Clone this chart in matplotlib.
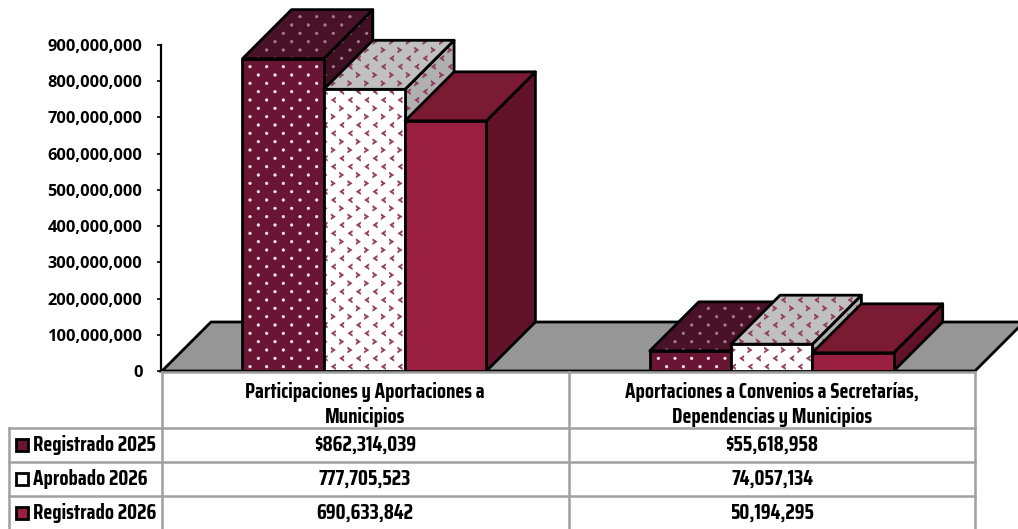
import numpy as np
import matplotlib
matplotlib.use("Agg")
import matplotlib.pyplot as plt
import matplotlib.hatch as mhatch
from matplotlib.path import Path
from matplotlib.patches import Polygon, Rectangle
from matplotlib.lines import Line2D
from matplotlib.ticker import FuncFormatter

categories = ["Participaciones y Aportaciones a\nMunicipios",
              "Aportaciones a Convenios a Secretarías,\nDependencias y Municipios"]
series_names = ["Registrado 2025", "Aprobado 2026", "Registrado 2026"]
registrado_2025 = [862314039, 55618958]
aprobado_2026 = [777705523, 74057134]
registrado_2026 = [690633842, 50194295]
table_row_1 = ["$862,314,039", "$55,618,958"]
table_row_2 = ["777,705,523", "74,057,134"]
table_row_3 = ["690,633,842", "50,194,295"]
y_ticks = [0, 100000000, 200000000, 300000000, 400000000, 500000000,
           600000000, 700000000, 800000000, 900000000]


class Lattice(mhatch.HatchPatternBase):
    """Staggered fill pattern: 6 columns, 12 rows per hatch tile."""
    char = '.'

    def shape(self, row):
        raise NotImplementedError

    def __init__(self, hatch, density):
        self.centres = []
        if hatch.count(self.char):
            for r in range(13):
                xs = (np.arange(7) / 6) if r % 2 == 0 else ((np.arange(6) + 0.5) / 6)
                self.centres += [(x, r / 12, r) for x in xs]
        self.num_vertices = sum(len(self.shape(c[2])[0]) for c in self.centres)

    def set_vertices_and_codes(self, vertices, codes):
        k = 0
        for x, y, r in self.centres:
            v, c = self.shape(r)
            vertices[k:k + len(v)] = v + (x, y)
            codes[k:k + len(v)] = c
            k += len(v)


class Dots(Lattice):
    char = '.'
    _c = Path.unit_circle()

    def shape(self, row):
        return self._c.vertices * 0.013, self._c.codes


class Chevrons(Lattice):
    char = '*'
    _v = np.array([[0.022, 0.028], [-0.02, 0.0], [0.022, -0.028], [0.022, -0.012],
                   [0.004, 0.0], [0.022, 0.012], [0.022, 0.028]])
    _c = np.array([Path.MOVETO] + [Path.LINETO] * 5 + [Path.CLOSEPOLY])

    def shape(self, row):
        v = self._v if row % 4 < 2 else self._v * (-1, 1)
        return v, self._c


mhatch._hatch_types = [Chevrons if c is mhatch.Stars else Dots if c is mhatch.SmallFilledCircles else c
                       for c in mhatch._hatch_types]

W, H = 1018, 529
NARROW = ['Saira Condensed', 'Barlow Condensed', 'Liberation Sans']
TICKF = ['Open Sans', 'DejaVu Sans']
plt.rcParams['hatch.linewidth'] = 0.4

fig = plt.figure(figsize=(W / 100, H / 100), dpi=100, facecolor='white')
ax = fig.add_axes([162 / W, (H - 371) / H, 813 / W, 326 / H])
ax.set_xlim(0, 2)
ax.set_ylim(0, 900000000)
ax.patch.set_visible(False)
for s in ['top', 'right', 'bottom']:
    ax.spines[s].set_visible(False)
ax.spines['left'].set_linewidth(1.6)
ax.spines['left'].set_position(('outward', 1))
ax.set_xticks([])
ax.set_yticks(y_ticks)
ax.yaxis.set_major_formatter(FuncFormatter(lambda v, _: f"{int(v):,}"))
ax.tick_params(axis='y', length=3, width=1.2, pad=10)
for t in ax.get_yticklabels():
    t.set_fontfamily(TICKF)
    t.set_fontweight('bold')
    t.set_fontsize(11.8)

px_x = 2 / 813
px_y = 900000000 / 326
dx, dy = 49 * px_x, 49 * px_y

# floor
ax.add_patch(Polygon([(0, 0), (dx, dy), (2 + dx, dy), (2, 0)], closed=True,
                     facecolor='#969696', edgecolor='black', lw=2.0, clip_on=False, zorder=1))

styles = [
    dict(front='#6a1534', top='#4a1229', side='#3f0f23', hatch='.', hc='#f5e6ea', htop='#a87d8c'),
    dict(front='#ffffff', top='#c0c0c0', side='#b0b0b0', hatch='*', hc='#8f3a58', htop='#8f3a58'),
    dict(front='#9b1f40', top='#7a1a33', side='#611229', hatch=None, hc=None, htop=None),
]
bar_w = 0.2
centers = [0.498, 1.5]
series_values = [registrado_2025, aprobado_2026, registrado_2026]


def face(verts, color, hatch, hc, z):
    ax.add_patch(Polygon(verts, closed=True, facecolor=color, edgecolor='none', clip_on=False, zorder=z))
    if hatch:
        ax.add_patch(Polygon(verts, closed=True, facecolor='none', edgecolor=hc, hatch=hatch, lw=0,
                             clip_on=False, zorder=z))
    ax.add_patch(Polygon(verts, closed=True, facecolor='none', edgecolor='black', lw=2.0,
                         joinstyle='round', clip_on=False, zorder=z))


for c, cx in enumerate(centers):
    for i, (vals, st) in enumerate(zip(series_values, styles)):
        x0 = cx + (i - 1.5) * bar_w
        x1 = x0 + bar_w
        v = vals[c]
        z = 2 + c + i * 0.1
        face([(x1, 0), (x1 + dx, dy), (x1 + dx, v + dy), (x1, v)], st['side'], st['hatch'], st['htop'], z)
        face([(x0, v), (x0 + dx, v + dy), (x1 + dx, v + dy), (x1, v)], st['top'], st['hatch'], st['htop'], z)
        face([(x0, 0), (x1, 0), (x1, v), (x0, v)], st['front'], st['hatch'], st['hc'], z)


def fx(p):
    return p / W


def fy(p):
    return 1 - p / H


GRID = '#a0a0a0'


def gline(x0, y0, x1, y1):
    fig.add_artist(Line2D([fx(x0), fx(x1)], [fy(y0), fy(y1)], color=GRID, lw=1.8, zorder=0.5))


for xp in (162, 569, 975):
    gline(xp, 372, xp, 529)
gline(9, 428, 9, 529)
gline(162, 372, 975, 372)
for yp in (428, 462, 496):
    gline(9, yp, 975, yp)

col_centers = [365, 772]
FS = 15
for cat, xc in zip(categories, col_centers):
    for line, yc in zip(cat.split("\n"), (392, 417)):
        fig.text(fx(xc), fy(yc), line, ha='center', va='center', family=NARROW,
                 fontweight='bold', fontsize=FS, color='black')

rows = [table_row_1, table_row_2, table_row_3]
row_y = [445, 479, 513]
for name, row, yc, st in zip(series_names, rows, row_y, styles):
    fig.add_artist(Rectangle((fx(16), fy(yc + 6)), 12 / W, 12 / H, transform=fig.transFigure,
                             facecolor=st['front'], edgecolor='black', lw=2.0))
    fig.text(fx(33), fy(yc), name, ha='left', va='center', family=NARROW, fontweight='bold', fontsize=FS)
    for txt, xc in zip(row, col_centers):
        fig.text(fx(xc), fy(yc), txt, ha='center', va='center', family=NARROW, fontweight='bold', fontsize=FS)

fig.savefig('out.png', dpi=100)
